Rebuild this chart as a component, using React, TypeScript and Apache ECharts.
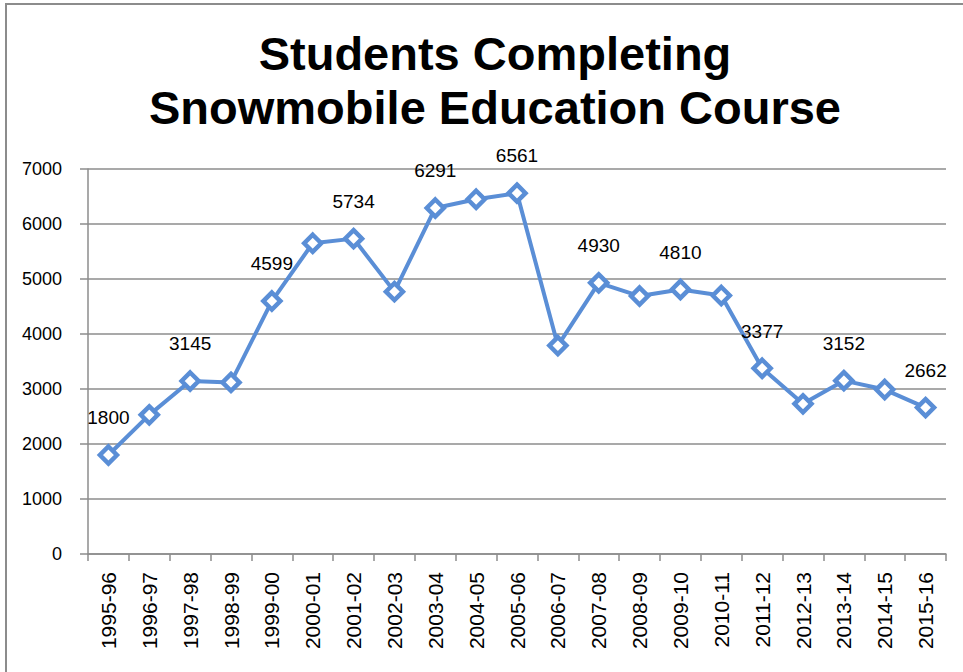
import React, { useEffect, useRef } from "react";
import * as echarts from "echarts";

const titleLines = ["Students Completing", "Snowmobile Education Course"];

const categories = [
  "1995-96", "1996-97", "1997-98", "1998-99", "1999-00", "2000-01", "2001-02",
  "2002-03", "2003-04", "2004-05", "2005-06", "2006-07", "2007-08", "2008-09",
  "2009-10", "2010-11", "2011-12", "2012-13", "2013-14", "2014-15", "2015-16",
];

const students = [
  1800, 2530, 3145, 3120, 4599, 5650, 5734, 4770, 6291, 6450, 6561, 3790, 4930,
  4690, 4810, 4700, 3377, 2730, 3152, 2990, 2662,
];

const yTicks = { min: 0, max: 7000, interval: 1000 };

export default function App() {
  const ref = useRef<HTMLDivElement>(null);

  useEffect(() => {
    if (!ref.current) return;
    const chart = echarts.init(ref.current, undefined, { renderer: "svg" });
    const gray = "#8c8c8c";
    const blue = "#5A8ED6";
    const narrow = "'Liberation Sans Narrow', 'Liberation Sans', sans-serif";
    chart.setOption({
      animation: false,
      backgroundColor: "#ffffff",
      title: {
        text: titleLines.join("\n"),
        left: 490,
        textAlign: "center",
        top: 21,
        textStyle: {
          fontFamily: "Liberation Sans",
          fontWeight: "bold",
          fontSize: 47,
          lineHeight: 54,
          color: "#000",
        },
      },
      graphic: [
        {
          type: "rect",
          shape: { x: 6, y: 4, width: 1200, height: 900 },
          style: { fill: "none", stroke: gray, lineWidth: 2 },
          silent: true,
          z: -1,
        },
      ],
      grid: { left: 88, right: 17, top: 169, bottom: 118, containLabel: false },
      xAxis: {
        type: "category",
        data: categories,
        boundaryGap: true,
        axisLine: { show: true, lineStyle: { color: gray, width: 1.5 } },
        axisTick: { show: true, length: 7, lineStyle: { color: gray, width: 1.5 } },
        axisLabel: {
          rotate: 90,
          margin: 18,
          interval: 0,
          fontFamily: "Liberation Sans",
          fontSize: 21,
          color: "#000",
        },
        splitLine: { show: false },
      },
      yAxis: {
        type: "value",
        min: yTicks.min,
        max: yTicks.max,
        interval: yTicks.interval,
        axisLine: { show: true, lineStyle: { color: gray, width: 1.5 } },
        axisTick: { show: true, length: 8, lineStyle: { color: gray, width: 1.5 } },
        axisLabel: {
          margin: 26,
          fontFamily: narrow,
          fontSize: 18,
          color: "#000",
          formatter: (v: number) => String(v),
        },
        splitLine: { show: true, lineStyle: { color: gray, width: 1.5 } },
      },
      series: [
        {
          type: "line",
          data: students,
          symbol: "diamond",
          symbolSize: 17,
          showAllSymbol: true,
          lineStyle: { color: blue, width: 4 },
          itemStyle: { color: "#ffffff", borderColor: blue, borderWidth: 4.5 },
          label: {
            show: true,
            position: "top",
            distance: 17,
            fontFamily: narrow,
            fontSize: 19,
            color: "#000",
            formatter: (p: any) => (p.dataIndex % 2 === 0 ? String(p.value) : ""),
          },
          emphasis: { disabled: true },
        },
      ],
    });
    return () => chart.dispose();
  }, []);

  return (
    <div
      ref={ref}
      style={{ position: "fixed", left: 0, top: 0, width: 963, height: 672 }}
    />
  );
}
